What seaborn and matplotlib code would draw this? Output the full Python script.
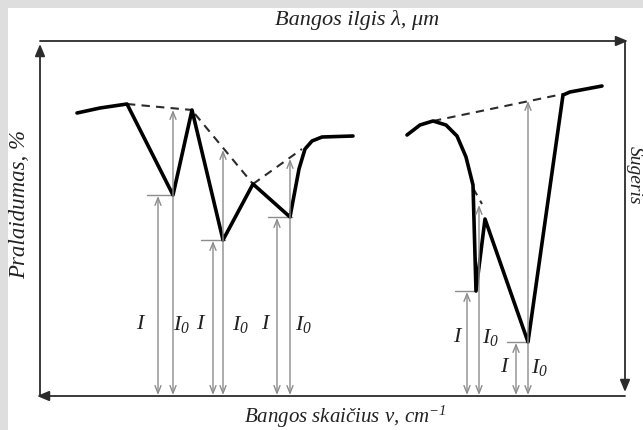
import matplotlib
matplotlib.use("Agg")
import matplotlib.pyplot as plt
import seaborn as sns
import pandas as pd
from matplotlib.patches import Rectangle

# schematic spectrum, values in picture pixels (x right, y down)
left_x = [77, 100, 127, 173, 192, 223, 253, 290, 299, 305, 312, 322, 353]
left_y = [114, 109, 105, 196, 111, 241, 185, 218, 170, 150, 142, 138, 137]
right_x = [407, 420, 433, 446, 457, 466, 473, 476, 485, 528, 563, 570, 602]
right_y = [136, 126, 122, 126, 137, 158, 186, 292, 220, 343, 96, 93, 87]

# dashed baselines (x0, y0, x1, y1)
base_lines = [
    (127, 105, 192, 111),
    (195, 115, 253, 185),
    (253, 185, 302, 150),
    (433, 122, 563, 95),
    (473, 189, 482, 205),
]

# arrow pairs: I arrows to the minimum, I0 arrows to the baseline
i_x = [158, 213, 277, 467, 516]
i_top = [196, 241, 218, 292, 343]
i0_x = [173, 223, 290, 479, 528]
i0_top = [110, 150, 159, 205, 101]
tick_from = [147, 201, 268, 455, 507]
tick_to = [173, 225, 292, 476, 528]

lab_i = [(141, 325), (201, 325), (266, 325), (458, 338), (505, 368)]
lab_i0 = [(182, 325), (241, 325), (304, 325), (491, 338), (540, 368)]

axis_y = 397
axis_top = 42
axis_left = 40
axis_right = 625

sns.set_theme(style="white")
plt.rcParams['font.family'] = ['Liberation Serif', 'DejaVu Serif']
plt.rcParams['mathtext.fontset'] = 'custom'
plt.rcParams['mathtext.it'] = 'Liberation Serif:italic'
plt.rcParams['mathtext.rm'] = 'Liberation Serif:italic'

fig = plt.figure(figsize=(6.43, 4.31), dpi=100)
fig.patch.set_facecolor("#dedede")
ax = fig.add_axes([0, 0, 1, 1])
ax.add_patch(Rectangle((8, 9), 640, 430, facecolor="white", edgecolor="none", zorder=0))

grey = "#8c8c8c"
dark = "#2b2b2b"

# frame with arrows
arr = dict(arrowstyle="-|>,head_length=0.6,head_width=0.25", color=dark, lw=1.3, shrinkA=0, shrinkB=0)
ax.annotate("", xy=(axis_right + 3, axis_top), xytext=(axis_left, axis_top), arrowprops=arr)
ax.annotate("", xy=(axis_left, axis_top + 3), xytext=(axis_left, axis_y), arrowprops=arr)
ax.annotate("", xy=(axis_right, axis_y - 4), xytext=(axis_right, axis_top), arrowprops=arr)
ax.annotate("", xy=(axis_left - 3, axis_y), xytext=(axis_right, axis_y), arrowprops=arr)

# measurement arrows
thin = dict(arrowstyle="<->,head_length=0.45,head_width=0.18", color=grey, lw=1.0, shrinkA=0, shrinkB=0)
for x, top in zip(i_x, i_top):
    ax.annotate("", xy=(x, top + 1), xytext=(x, axis_y - 1), arrowprops=thin)
for x, top in zip(i0_x, i0_top):
    ax.annotate("", xy=(x, top + 1), xytext=(x, axis_y - 1), arrowprops=thin)
for x0, x1, y in zip(tick_from, tick_to, i_top):
    ax.plot([x0, x1], [y, y], color=grey, lw=1.0)

for x0, y0, x1, y1 in base_lines:
    ax.plot([x0, x1], [y0, y1], color=dark, lw=1.5, ls=(0, (4, 3)))

df_l = pd.DataFrame({"x": left_x, "y": left_y})
df_r = pd.DataFrame({"x": right_x, "y": right_y})
sns.lineplot(data=df_l, x="x", y="y", sort=False, color="black", lw=2.6, ax=ax)
sns.lineplot(data=df_r, x="x", y="y", sort=False, color="black", lw=2.6, ax=ax)
ax.set_xlim(0, 643)
ax.set_ylim(431, 0)
ax.axis("off")

txt = dict(style="italic", color="#222222")
for x, y in lab_i:
    ax.text(x, y, r"$I$", fontsize=16, ha="center", va="center", **txt)
for x, y in lab_i0:
    ax.text(x, y, r"$I_0$", fontsize=16, ha="center", va="center", **txt)

ax.text(357, 20, "Bangos ilgis λ, μm", fontsize=16, ha="center", va="center", **txt)
ax.text(345, 417, r"Bangos skaičius ν, cm$^{-1}$", fontsize=15, ha="center",
        va="center", **txt)
ax.text(20, 205, "Pralaidumas, %", fontsize=16.5, ha="center", va="center", rotation=90, **txt)
ax.text(634, 175, "Sugeris", fontsize=14, ha="center", va="center", rotation=-90, **txt)

fig.savefig("out.png", dpi=100, facecolor=fig.get_facecolor())
